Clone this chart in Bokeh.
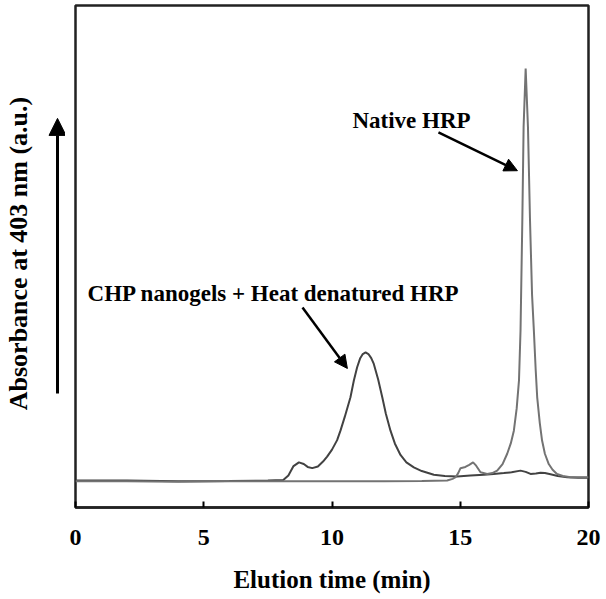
import math
from bokeh.plotting import figure
from bokeh.layouts import row
from bokeh.models import Range1d, Label, Arrow, NormalHead, FixedTicker
from bokeh.embed import file_html
from bokeh.resources import INLINE

# CHP nanogels + heat denatured HRP (time in min, absorbance in a.u.)
chp_t = [0.0, 2.0, 4.0, 6.0, 7.5, 8.1, 8.3, 8.5, 8.71, 8.9, 9.05, 9.23, 9.45, 9.65, 9.81, 10.0,
         10.2, 10.33, 10.5, 10.72, 10.85, 10.98, 11.1, 11.2, 11.31, 11.42, 11.53, 11.63, 11.8,
         11.96, 12.1, 12.28, 12.45, 12.67, 12.9, 13.19, 13.5, 13.97, 14.4, 14.88, 15.4, 15.92,
         16.3, 16.7, 17.0, 17.35, 17.55, 17.74, 17.95, 18.13, 18.3, 18.52, 18.8, 19.17, 19.6, 20.0]
chp_v = [0.0, 0.0, -0.002, -0.001, 0.0, 0.001, 0.012, 0.035, 0.044, 0.040, 0.033, 0.030, 0.034, 0.046, 0.058, 0.075,
         0.098, 0.121, 0.155, 0.202, 0.242, 0.275, 0.297, 0.307, 0.311, 0.307, 0.297, 0.283, 0.245,
         0.202, 0.162, 0.121, 0.090, 0.062, 0.044, 0.032, 0.023, 0.014, 0.011, 0.010, 0.012, 0.014,
         0.016, 0.018, 0.020, 0.024, 0.021, 0.016, 0.017, 0.019, 0.018, 0.015, 0.011, 0.008, 0.007, 0.007]

# Native HRP
nat_t = [0.0, 2.0, 4.0, 6.0, 8.0, 10.0, 12.0, 13.5, 14.49, 14.7, 14.82, 14.92, 15.01, 15.2, 15.35,
         15.5, 15.62, 15.79, 16.05, 16.25, 16.44, 16.65, 16.83, 16.97, 17.09, 17.2, 17.29, 17.35,
         17.42, 17.47, 17.55, 17.64, 17.72, 17.8, 17.87, 17.94, 18.0, 18.1, 18.19, 18.3, 18.45,
         18.6, 18.77, 19.0, 19.3, 19.7, 20.0]
nat_v = [-0.002, -0.002, -0.003, -0.002, -0.002, -0.002, -0.002, -0.001, 0.000, 0.004, 0.008, 0.018, 0.030, 0.033, 0.038,
         0.044, 0.036, 0.020, 0.016, 0.018, 0.024, 0.040, 0.065, 0.090, 0.121, 0.175, 0.243, 0.364,
         0.631, 0.858, 1.000, 0.858, 0.631, 0.450, 0.364, 0.270, 0.202, 0.140, 0.097, 0.065, 0.040,
         0.026, 0.016, 0.011, 0.008, 0.008, 0.008]

x_ticks = [0, 5, 10, 15, 20]

FONT = "Liberation Serif"
Y0, Y1 = -0.0655, 1.153
H = 599
TOP, BOTTOM = 5, 92

# ---- left strip: y-axis title and upward arrow ----
left = figure(width=65, height=H, output_backend="svg", toolbar_location=None,
              x_range=Range1d(0, 65), y_range=Range1d(Y0, Y1),
              min_border_left=0, min_border_right=0, min_border_top=TOP, min_border_bottom=BOTTOM)
left.xaxis.visible = False
left.yaxis.visible = False
left.xgrid.visible = False
left.ygrid.visible = False
left.outline_line_color = None
left.background_fill_color = "white"
left.border_fill_color = "white"
left.add_layout(Arrow(x_start=57, y_start=0.211, x_end=57, y_end=0.879,
                      line_width=3, line_color="black",
                      end=NormalHead(size=17, fill_color="black", line_color="black", line_width=1)))
left.add_layout(Label(x=18, y=0.551, text="Absorbance at 403 nm (a.u.)", angle=math.pi / 2,
                      text_align="center", text_baseline="middle", text_font=FONT,
                      text_font_style="bold", text_font_size="26px", text_color="black"))

# ---- main plot ----
p = figure(width=541, height=H, output_backend="svg", toolbar_location=None,
           x_range=Range1d(0, 20), y_range=Range1d(Y0, Y1),
           min_border_left=10, min_border_right=18, min_border_top=TOP, min_border_bottom=BOTTOM)
p.background_fill_color = "white"
p.border_fill_color = "white"
p.outline_line_color = "#222222"
p.outline_line_width = 2.5
p.xgrid.visible = False
p.ygrid.visible = False
p.yaxis.visible = False

p.line(chp_t, chp_v, line_color="#424242", line_width=2)
p.line(nat_t, nat_v, line_color="#737373", line_width=2)

xa = p.xaxis[0]
xa.ticker = FixedTicker(ticks=x_ticks)
xa.minor_tick_line_color = None
xa.major_tick_in = 6
xa.major_tick_out = 0
xa.major_tick_line_width = 2
xa.axis_line_width = 2.5
xa.axis_line_color = "#222222"
xa.major_label_standoff = 22
xa.major_label_text_font = FONT
xa.major_label_text_font_style = "bold"
xa.major_label_text_font_size = "24px"
xa.major_label_text_color = "black"
xa.axis_label = "Elution time (min)"
xa.axis_label_text_font = FONT
xa.axis_label_text_font_style = "bold"
xa.axis_label_text_font_size = "25px"
xa.axis_label_text_color = "black"
xa.axis_label_standoff = 18

p.add_layout(Label(x=13.1, y=0.874, text="Native HRP", text_align="center", text_baseline="middle",
                   text_font=FONT, text_font_style="bold", text_font_size="23px", text_color="black"))
p.add_layout(Label(x=0.47, y=0.454, text="CHP nanogels + Heat denatured HRP", text_align="left",
                   text_baseline="middle", text_font=FONT, text_font_style="bold",
                   text_font_size="23px", text_color="black"))

p.add_layout(Arrow(x_start=14.15, y_start=0.845, x_end=17.23, y_end=0.752, line_width=2.5,
                   line_color="black",
                   end=NormalHead(size=13, fill_color="black", line_color="black", line_width=1)))
p.add_layout(Arrow(x_start=8.85, y_start=0.42, x_end=10.6, y_end=0.272, line_width=2.5,
                   line_color="black",
                   end=NormalHead(size=13, fill_color="black", line_color="black", line_width=1)))

open("out.html", "w").write(file_html(row(left, p), INLINE))
